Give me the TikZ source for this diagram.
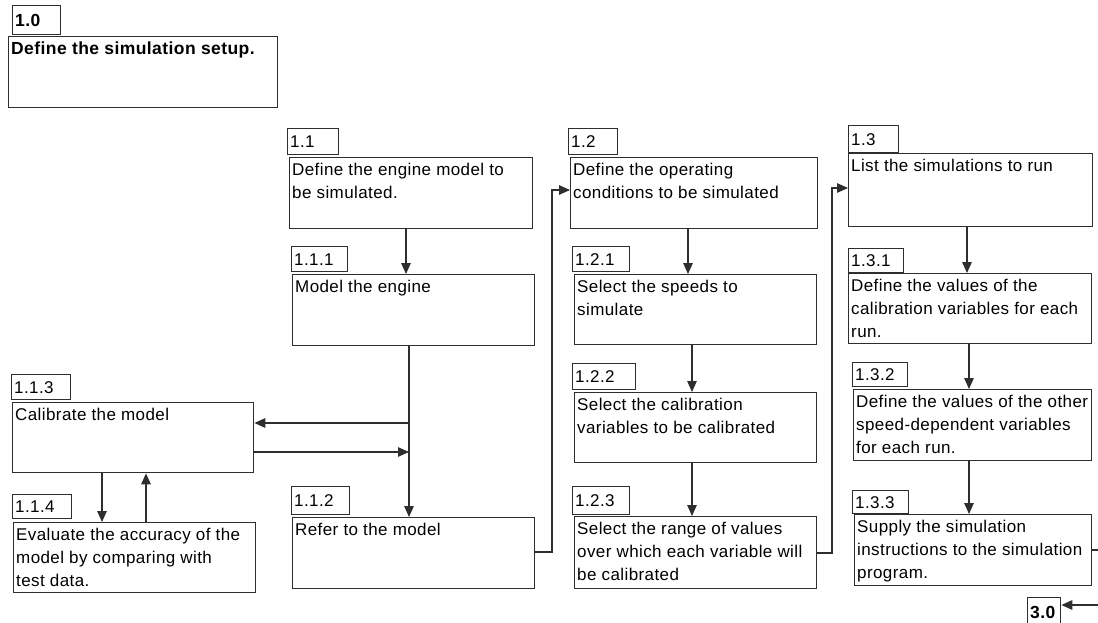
\documentclass[tikz,border=0pt]{standalone}
\usepackage{fontspec}
\setmainfont{Liberation Sans}[LetterSpace=2.4]
\usetikzlibrary{arrows.meta}
\begin{document}
\begin{tikzpicture}[x=1pt,y=-1pt,
  frame/.style={draw=black!82, line width=1.35pt, rectangle, inner sep=0pt, anchor=north west},
  boxtext/.style={anchor=north west, inner sep=0pt, align=left, font=\fontsize{17}{23}\selectfont},
  headtext/.style={anchor=north west, inner sep=0pt, align=left, font=\fontsize{17.5}{23}\selectfont\bfseries},
  tagtext/.style={anchor=west, inner sep=0pt, font=\fontsize{17}{20}\selectfont},
  link/.style={draw=black!82, line width=1.35pt},
  arr/.style={link, -{Triangle[length=11pt,width=9.5pt]}},
]
\useasboundingbox (0,0) rectangle (1098,623);

% numbered tag: name, x1, y1, x2, y2, text, font style
\newcommand\tagbox[7]{%
  \node[frame, minimum width=#4-#2, minimum height=#5-#3] (#1) at (#2,#3) {};
  \node[tagtext, #7] (#1t) at ([xshift=3pt]#1.west) {#6};}
% step box with text in the top left corner
\newcommand\stepbox[7]{%
  \node[frame, minimum width=#4-#2, minimum height=#5-#3] (#1) at (#2,#3) {};
  \node[#7] (#1t) at ([shift={(3,6)}]#1.north west) {#6};}

% level 1.0
\tagbox{l10}{12}{5}{60}{34}{1.0}{font=\fontsize{17.5}{20}\selectfont\bfseries}
\stepbox{b10}{8}{36}{277}{107}{Define the simulation setup.}{headtext}

% column 1.1
\tagbox{l11}{287}{128}{338}{154}{1.1}{}
\stepbox{b11}{289}{157}{532}{228}{Define the engine model to\\be simulated.}{boxtext}
\tagbox{l111}{291}{246}{347}{271}{1.1.1}{}
\stepbox{b111}{292}{274}{534}{345}{Model the engine}{boxtext}
\tagbox{l112}{291}{486}{349}{514}{1.1.2}{}
\stepbox{b112}{292}{517}{534}{588}{Refer to the model}{boxtext}

% calibration loop
\tagbox{l113}{11}{374}{70}{399}{1.1.3}{}
\stepbox{b113}{12}{402}{253}{472}{Calibrate the model}{boxtext}
\tagbox{l114}{12}{494}{71}{518}{1.1.4}{}
\stepbox{b114}{13}{522}{255}{592}{Evaluate the accuracy of the\\model by comparing with\\test data.}{boxtext}

% column 1.2
\tagbox{l12}{568}{128}{617}{154}{1.2}{}
\stepbox{b12}{570}{157}{817}{228}{Define the operating\\conditions to be simulated}{boxtext}
\tagbox{l121}{572}{246}{629}{271}{1.2.1}{}
\stepbox{b121}{574}{274}{816}{344}{Select the speeds to\\simulate}{boxtext}
\tagbox{l122}{572}{363}{635}{389}{1.2.2}{}
\stepbox{b122}{574}{392}{816}{462}{Select the calibration\\variables to be calibrated}{boxtext}
\tagbox{l123}{572}{486}{629}{514}{1.2.3}{}
\stepbox{b123}{574}{516}{816}{588}{Select the range of values\\over which each variable will\\be calibrated}{boxtext}

% column 1.3
\tagbox{l13}{848}{125}{898}{152}{1.3}{}
\stepbox{b13}{848}{153}{1092}{226}{List the simulations to run}{boxtext}
\tagbox{l131}{848}{248}{903}{272}{1.3.1}{}
\stepbox{b131}{848}{273}{1091}{343}{Define the values of the\\calibration variables for each\\run.}{boxtext}
\tagbox{l132}{852}{362}{907}{386}{1.3.2}{}
\stepbox{b132}{853}{389}{1091}{460}{Define the values of the other\\speed-dependent variables\\for each run.}{boxtext}
\tagbox{l133}{852}{490}{908}{513}{1.3.3}{}
\stepbox{b133}{854}{514}{1091}{585}{Supply the simulation\\instructions to the simulation\\program.}{boxtext}

% level 3.0
\tagbox{l30}{1027}{597}{1060}{627}{3.0}{font=\fontsize{17.5}{20}\selectfont\bfseries}

% vertical trunks
\coordinate (x1) at (406,0);
\coordinate (x2) at (409,0);
\coordinate (x3) at (102,0);
\coordinate (x4) at (146,0);
\coordinate (x5) at (688,0);
\coordinate (x6) at (692,0);
\coordinate (x7) at (967,0);
\coordinate (x8) at (969,0);

\draw[arr] (b11.south -| x1) -- (b111.north -| x1);
\draw[arr] (b111.south -| x2) -- (b112.north -| x2);

% to and from calibration
\coordinate (j1) at (409,423);
\coordinate (j2) at (409,452);
\draw[arr] (j1) -- (j1 -| b113.east);
\draw[arr] (j2 -| b113.east) -- (j2);
\draw[arr] (b113.south -| x3) -- (b114.north -| x3);
\draw[arr] (b114.north -| x4) -- (b113.south -| x4);

% column 1.2
\draw[arr] (b12.south -| x5) -- (b121.north -| x5);
\draw[arr] (b121.south -| x6) -- (b122.north -| x6);
\draw[arr] (b122.south -| x6) -- (b123.north -| x6);

% column 1.3
\draw[arr] (b13.south -| x7) -- (b131.north -| x7);
\draw[arr] (b131.south -| x8) -- (b132.north -| x8);
\draw[arr] (b132.south -| x8) -- (b133.north -| x8);

% hand-over between columns
\coordinate (r1) at (552,552);
\coordinate (r2) at (552,190);
\draw[arr] (b112.east |- r1) -- (r1) -- (r2) -- (r2 -| b12.west);
\coordinate (r3) at (832,553);
\coordinate (r4) at (832,188);
\draw[arr] (b123.east |- r3) -- (r3) -- (r4) -- (r4 -| b13.west);

% exits at the right edge
\coordinate (e1) at (1098,550);
\draw[link] (b133.east |- e1) -- (e1);
\coordinate (e2) at (1098,605);
\draw[arr] (e2) -- (e2 -| l30.east);
\end{tikzpicture}
\end{document}
